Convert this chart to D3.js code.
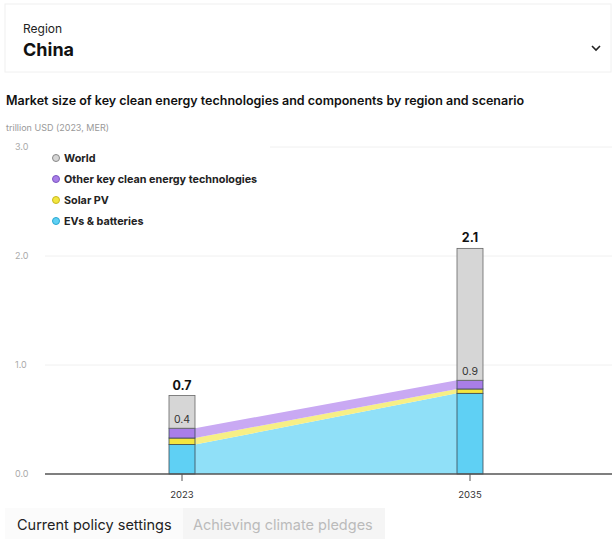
<!DOCTYPE html>
<html>
<head>
<meta charset="utf-8">
<script src="https://cdn.jsdelivr.net/npm/d3@7"></script>
<style>
  html, body { margin: 0; padding: 0; background: #fff; }
  svg { display: block; font-family: Inter, "Noto Sans", sans-serif; }
</style>
</head>
<body>
<svg id="chart" width="614" height="539"></svg>
<script>
// Data (China, current policy settings)
const years = [2023, 2035];
const evs = [0.27, 0.74];
const solar = [0.06, 0.04];
const other = [0.09, 0.08];
const world = [0.72, 2.07];
const chinaLabels = ['0.4', '0.9'];
const worldLabels = ['0.7', '2.1'];
const yTicks = [0, 1, 2, 3];

const seriesNames = ['World', 'Other key clean energy technologies', 'Solar PV', 'EVs & batteries'];
const barColors = { evs: '#5fd0f4', solar: '#f3e63f', other: '#a97ee8', world: '#d6d6d6' };
const areaColors = { evs: '#90e0f8', solar: '#f7ef86', other: '#c9a9f3' };

const svg = d3.select('#chart');

// Region selector box
svg.append('rect')
  .attr('x', 5).attr('y', 4).attr('width', 606).attr('height', 68)
  .attr('fill', '#fff').attr('stroke', '#f0f0f0');
svg.append('text').attr('x', 23).attr('y', 33)
  .attr('font-size', 12).attr('fill', '#222').text('Region');
svg.append('text').attr('x', 23).attr('y', 56)
  .attr('font-size', 18).attr('font-weight', 700).attr('fill', '#111').text('China');
svg.append('path')
  .attr('d', 'M592,46 L596,50 L600,46')
  .attr('fill', 'none').attr('stroke', '#222').attr('stroke-width', 1.6);

// Title
svg.append('text').attr('x', 6).attr('y', 105)
  .attr('font-size', 12.5).attr('font-weight', 600).attr('fill', '#111')
  .text('Market size of key clean energy technologies and components by region and scenario');
svg.append('text').attr('x', 6).attr('y', 131)
  .attr('font-size', 9).attr('fill', '#999')
  .text('trillion USD (2023, MER)');

// Scales
const y = d3.scaleLinear().domain([0, 3]).range([474, 147]);
const x = d3.scaleLinear().domain(years).range([182, 470]);
const bw = 26;
const plotLeft = 45, plotRight = 612;

// Grid
svg.append('g').selectAll('line')
  .data(yTicks.slice(1))
  .join('line')
  .attr('x1', plotLeft).attr('x2', plotRight)
  .attr('y1', d => y(d)).attr('y2', d => y(d))
  .attr('stroke', '#f0f0f0');

svg.append('g').selectAll('text')
  .data(yTicks)
  .join('text')
  .attr('x', 15).attr('y', d => y(d) + 3)
  .attr('font-size', 9).attr('fill', '#aaa')
  .text(d => d3.format('.1f')(d));

// Stacked areas between bars
const rows = years.map((yr, i) => ({ year: yr, evs: evs[i], solar: solar[i], other: other[i] }));
const stack = d3.stack().keys(['evs', 'solar', 'other']);
const stacked = stack(rows);
const edgeX = [x(years[0]) + bw / 2, x(years[1]) - bw / 2];

const area = d3.area()
  .x((d, i) => edgeX[i])
  .y0(d => y(d[0]))
  .y1(d => y(d[1]));

svg.append('g').selectAll('path')
  .data(stacked)
  .join('path')
  .attr('d', area)
  .attr('fill', d => areaColors[d.key]);

// Bars
const barG = svg.append('g');
stacked.forEach(s => {
  barG.selectAll(null)
    .data(s)
    .join('rect')
    .attr('x', (d, i) => x(years[i]) - bw / 2)
    .attr('width', bw)
    .attr('y', d => y(d[1]))
    .attr('height', d => y(d[0]) - y(d[1]))
    .attr('fill', barColors[s.key])
    .attr('stroke', '#3a4a55')
    .attr('stroke-width', 0.8);
});

// World remainder segment
const chinaTotal = rows.map(r => r.evs + r.solar + r.other);
barG.selectAll('rect.world')
  .data(world)
  .join('rect')
  .attr('class', 'world')
  .attr('x', (d, i) => x(years[i]) - bw / 2)
  .attr('width', bw)
  .attr('y', d => y(d))
  .attr('height', (d, i) => y(chinaTotal[i]) - y(d))
  .attr('fill', barColors.world)
  .attr('stroke', '#666')
  .attr('stroke-width', 0.8);

// Value labels
svg.append('g').selectAll('text')
  .data(world)
  .join('text')
  .attr('x', (d, i) => x(years[i]))
  .attr('y', d => y(d) - 6)
  .attr('text-anchor', 'middle')
  .attr('font-size', 12.5).attr('font-weight', 700).attr('fill', '#111')
  .text((d, i) => worldLabels[i]);

svg.append('g').selectAll('text')
  .data(chinaTotal)
  .join('text')
  .attr('x', (d, i) => x(years[i]))
  .attr('y', d => y(d) - 5)
  .attr('text-anchor', 'middle')
  .attr('font-size', 10.5).attr('fill', '#333')
  .text((d, i) => chinaLabels[i]);

// X axis
svg.append('line')
  .attr('x1', plotLeft).attr('x2', plotRight)
  .attr('y1', y(0)).attr('y2', y(0))
  .attr('stroke', '#555').attr('stroke-width', 1.5);

const xAxis = svg.append('g');
xAxis.selectAll('line')
  .data(years)
  .join('line')
  .attr('x1', d => x(d)).attr('x2', d => x(d))
  .attr('y1', y(0)).attr('y2', y(0) + 7)
  .attr('stroke', '#555');
xAxis.selectAll('text')
  .data(years)
  .join('text')
  .attr('x', d => x(d)).attr('y', 498)
  .attr('text-anchor', 'middle')
  .attr('font-size', 9.5).attr('fill', '#333')
  .text(d => d);

// Legend
const legend = svg.append('g');
legend.append('rect')
  .attr('x', 45).attr('y', 146).attr('width', 225).attr('height', 88)
  .attr('fill', '#fff');
const legendFill = ['#d6d6d6', barColors.other, barColors.solar, barColors.evs];
const legendStroke = ['#888', '#7a55c0', '#c8b820', '#2aa8d0'];
seriesNames.forEach((name, i) => {
  const ly = 158 + i * 21;
  legend.append('circle')
    .attr('cx', 56).attr('cy', ly).attr('r', 3.5)
    .attr('fill', legendFill[i]).attr('stroke', legendStroke[i]).attr('stroke-width', 1);
  legend.append('text')
    .attr('x', 64).attr('y', ly + 3.5)
    .attr('font-size', 10.8).attr('font-weight', 700).attr('fill', '#222')
    .text(name);
});

// Scenario tabs
svg.append('rect').attr('x', 5).attr('y', 508).attr('width', 380).attr('height', 31)
  .attr('fill', '#f5f5f5');
svg.append('rect').attr('x', 5).attr('y', 508).attr('width', 178).attr('height', 31)
  .attr('fill', '#fbfbfb');
svg.append('text').attr('x', 17).attr('y', 530)
  .attr('font-size', 14.5).attr('fill', '#222').text('Current policy settings');
svg.append('text').attr('x', 193).attr('y', 530)
  .attr('font-size', 14.5).attr('fill', '#bbb').text('Achieving climate pledges');
</script>
</body>
</html>
